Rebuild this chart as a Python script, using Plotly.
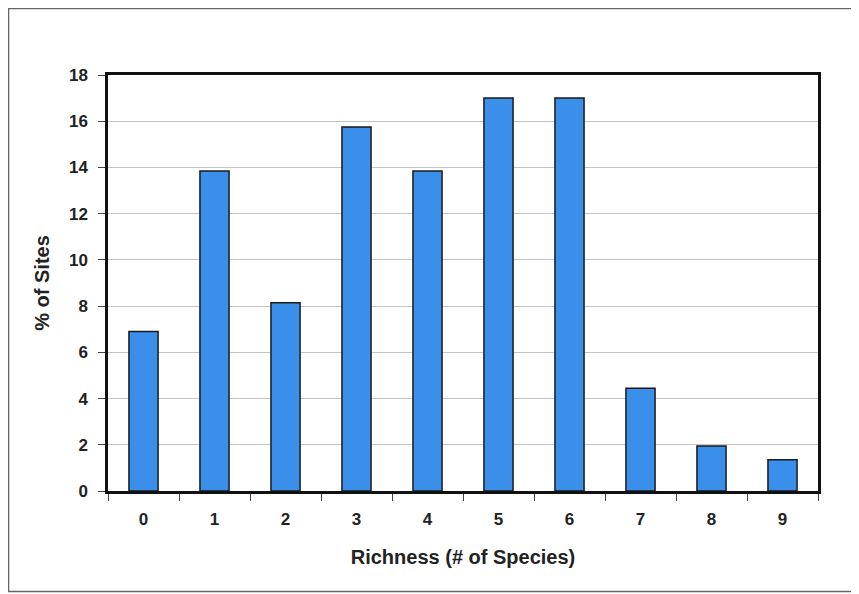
import plotly.graph_objects as go

categories = ["0", "1", "2", "3", "4", "5", "6", "7", "8", "9"]
pct_sites = [6.9, 13.85, 8.15, 15.75, 13.85, 17.0, 17.0, 4.45, 1.95, 1.35]
y_ticks = [0, 2, 4, 6, 8, 10, 12, 14, 16, 18]

FAM = "Liberation Sans, Arial, sans-serif"

fig = go.Figure(go.Bar(
    x=categories, y=pct_sites,
    marker=dict(color="#3a8fea", line=dict(color="#1a1a1a", width=1.5)),
))

fig.update_layout(
    width=851, height=586,
    margin=dict(l=100, r=41, t=67, b=103),
    paper_bgcolor="white", plot_bgcolor="white",
    bargap=0.59, showlegend=False,
    font=dict(family=FAM, size=17, color="#222222"),
    xaxis=dict(
        type="category", tickson="boundaries", ticks="outside", ticklen=7,
        tickcolor="#444", showline=True, linecolor="#111", linewidth=2.5, mirror=True,
        showgrid=False, ticklabelstandoff=11,
        tickvals=categories, ticktext=[f"<b>{c}</b>" for c in categories],
        tickfont=dict(family=FAM, size=17, color="#222"),
        title=dict(text="<b>Richness (# of Species)</b>", standoff=22,
                   font=dict(family=FAM, size=20, color="#222")),
    ),
    yaxis=dict(
        range=[0, 18], tickvals=y_ticks, ticktext=[f"<b>{v}</b>" for v in y_ticks],
        ticks="outside", ticklen=7, tickcolor="#444", ticklabelstandoff=7,
        showline=True, linecolor="#111", linewidth=2.5, mirror=True,
        showgrid=True, gridcolor="#c4c4c4", gridwidth=1, zeroline=False,
        tickfont=dict(family=FAM, size=17, color="#222"),
        title=dict(text="<b>% of Sites</b>", standoff=14,
                   font=dict(family=FAM, size=20, color="#222")),
    ),
)

fig.add_shape(type="rect", xref="paper", yref="paper",
              x0=-0.1401, x1=1.06, y0=-0.2416, y1=1.1599,
              line=dict(color="#666666", width=1.5), fillcolor="rgba(0,0,0,0)", layer="below")

fig.write_html("out.html")
